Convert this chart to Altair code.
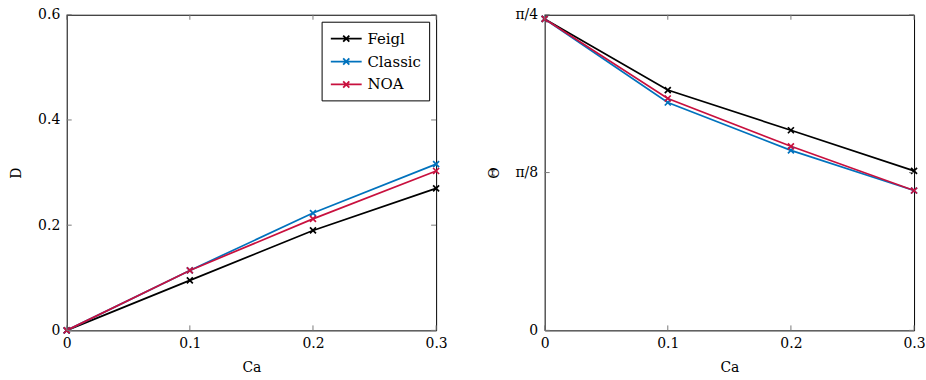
import math

import altair as alt
import pandas as pd

# Capillary number values shared by both panels
CA = [0.0, 0.1, 0.2, 0.3]
METHODS = ["Feigl", "Classic", "NOA"]
COLORS = ["#000000", "#0072BD", "#C8103E"]

# Deformation D
D_FEIGL = [0.0, 0.095, 0.19, 0.27]
D_CLASSIC = [0.0, 0.114, 0.223, 0.316]
D_NOA = [0.0, 0.114, 0.212, 0.303]

# Inclination angle Θ (radians)
THETA_FEIGL = [0.775, 0.598, 0.498, 0.397]
THETA_CLASSIC = [0.775, 0.567, 0.448, 0.348]
THETA_NOA = [0.775, 0.577, 0.458, 0.348]

X_TICKS = [0.0, 0.1, 0.2, 0.3]
D_TICKS = [0.0, 0.2, 0.4, 0.6]
THETA_TICKS = [0.0, math.pi / 8, math.pi / 4]
THETA_LABELS = ["0", "π/8", "π/4"]

W, H = 371, 317
TICK = 5
FONT = "DejaVu Serif"
FS = 14


def long_table(series):
    rows = []
    for name, values in zip(METHODS, series):
        for ca, v in zip(CA, values):
            rows.append({"Ca": ca, "value": v, "method": name})
    return pd.DataFrame(rows)


d_df = long_table([D_FEIGL, D_CLASSIC, D_NOA])
t_df = long_table([THETA_FEIGL, THETA_CLASSIC, THETA_NOA])

num_label = "datum.value == 0 ? '0' : format(datum.value, '.1f')"
theta_label = " : ".join(
    f"abs(datum.value - {v}) < 0.01 ? '{s}'" for v, s in zip(THETA_TICKS, THETA_LABELS)
) + " : ''"

cross = "M-1,-1L1,1M-1,1L1,-1"
legend_symbol = "M-1,0L3,0M0.6,-0.4L1.4,0.4M0.6,0.4L1.4,-0.4"


def panel(df, y_title, y_domain, y_ticks, y_label_expr, show_legend):
    x_scale = alt.Scale(domain=[0, 0.3], nice=False, zero=False)
    y_scale = alt.Scale(domain=y_domain, nice=False, zero=False)
    x_axis = alt.Axis(
        title="Ca",
        values=X_TICKS,
        labelExpr=num_label,
        labelFlush=False,
        labelPadding=6,
        titlePadding=10,
    )
    y_axis = alt.Axis(
        title=y_title,
        values=y_ticks,
        labelExpr=y_label_expr,
        labelFlush=False,
        labelPadding=7,
        titlePadding=14,
    )
    if show_legend:
        legend = alt.Legend(
            title=None,
            orient="top-right",
            offset=7,
            strokeColor="#000000",
            fillColor="#ffffff",
            padding=8,
            cornerRadius=0,
            symbolType=legend_symbol,
            symbolSize=240,
            symbolStrokeWidth=1.8,
            labelFont=FONT,
            labelFontSize=FS + 1,
            labelColor="#000000",
            labelOffset=20,
            rowPadding=6,
        )
    else:
        legend = None
    color = alt.Color(
        "method:N",
        scale=alt.Scale(domain=METHODS, range=COLORS),
        sort=METHODS,
        legend=legend,
    )
    x_enc = alt.X("Ca:Q", scale=x_scale, axis=x_axis)
    y_enc = alt.Y("value:Q", scale=y_scale, axis=y_axis)
    base = alt.Chart(df)
    lines = base.mark_line(strokeWidth=1.7).encode(x=x_enc, y=y_enc, color=color)
    points = base.mark_point(shape=cross, size=36, strokeWidth=1.7, filled=False, opacity=1).encode(
        x=x_enc, y=y_enc, color=color
    )

    xt = alt.Chart(pd.DataFrame({"Ca": X_TICKS}))
    yt = alt.Chart(pd.DataFrame({"value": y_ticks}))
    tick_style = dict(color="#7a7a7a", strokeWidth=1)
    xtb = xt.mark_rule(**tick_style).encode(x=x_enc, y=alt.value(H), y2=alt.value(H - TICK))
    xtt = xt.mark_rule(**tick_style).encode(x=x_enc, y=alt.value(0), y2=alt.value(TICK))
    ytl = yt.mark_rule(**tick_style).encode(y=y_enc, x=alt.value(0), x2=alt.value(TICK))
    ytr = yt.mark_rule(**tick_style).encode(y=y_enc, x=alt.value(W), x2=alt.value(W - TICK))
    return alt.layer(lines, points, xtb, xtt, ytl, ytr).properties(width=W, height=H)


left = panel(d_df, "D", [0, 0.6], D_TICKS, num_label, True)
right = panel(t_df, "Θ", [0, math.pi / 4], THETA_TICKS, theta_label, False)

chart = (
    alt.hconcat(left, right, spacing=38)
    .resolve_scale(color="independent")
    .properties(padding={"left": 9, "top": 6, "right": 0, "bottom": 0})
    .configure_view(stroke="#000000", strokeWidth=1)
    .configure_axis(
        domain=False,
        ticks=False,
        grid=False,
        labelFont=FONT,
        labelFontSize=FS,
        labelColor="#000000",
        titleFont=FONT,
        titleFontSize=FS,
        titleFontWeight="normal",
        titleColor="#000000",
    )
)

chart.save("out.html", embed_options={"renderer": "svg", "actions": False})
